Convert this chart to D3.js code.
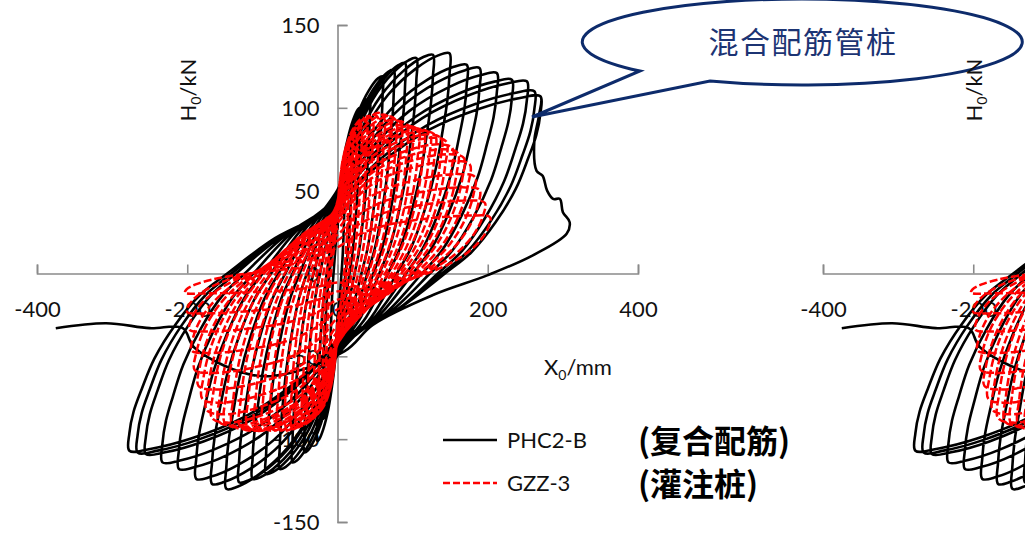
<!DOCTYPE html>
<html><head><meta charset="utf-8">
<script src="https://cdn.jsdelivr.net/npm/d3@7"></script>
<style>body{margin:0;background:#fff;overflow:hidden}svg{display:block}</style>
</head><body>
<svg id="c" width="1025" height="536"></svg>
<script>
// ---- data ----
const xTicks = [-400, -200, 0, 200, 400];
const yTicks = [-150, -100, -50, 0, 50, 100, 150];
const seriesNames = ["PHC2-B", "GZZ-3"];
const seriesNotes = ["(复合配筋)", "(灌注桩)"];
const calloutText = "混合配筋管桩";

// PHC2-B cycle peaks (mm, kN)
const blackPosX = [10, 20, 30, 43, 60, 75, 90, 105, 127, 149, 172, 189, 212, 232, 252, 262, 270];
const blackPosF = [70, 88, 100, 106, 119, 123, 127, 130, 132, 133, 126, 124, 121, 117, 116, 110, 107];
const blackNegX = [-10, -20, -27, -44, -60, -77, -95, -113, -131, -148, -167, -188, -211, -233, -255, -266, -277];
const blackNegF = [-70, -88, -101, -108, -114, -118, -121, -124, -126, -130, -127, -124, -118, -114, -109, -108, -107];
// normalized loop template for PHC2-B (fraction of peak)
const blackLoopU = [0, 0.1, 0.22, 0.45, 0.7, 0.9, 1.0, 1.0, 0.98, 0.94, 0.88, 0.78, 0.66, 0.53, 0.3, 0];
const blackLoopV = [0.38, 0.5, 0.63, 0.81, 0.93, 0.99, 1.0, 0.9, 0.78, 0.65, 0.48, 0.29, 0.12, 0, -0.2, -0.38];
const blackPeakIndex = 6;
// final failure branch of PHC2-B
const tailX = [268, 262, 265, 273, 279, 287, 296, 300, 309, 305, 260, 200, 127, 47, 9, -100, -190, -206, -250, -308, -375];
const tailF = [95, 80, 62, 59, 50, 45, 45, 37, 31, 24, 11, -1, -13, -31, -47, -62, -45, -33, -33, -30, -33];

// GZZ-3 cycle peaks (mm, kN)
const redPosX = [15, 20, 25, 32, 39, 47, 55, 62, 70, 78, 85, 93, 100, 108, 115, 123, 130, 138, 145, 153, 160, 168, 176, 183, 189, 196, 203];
const redPosF = [70, 78, 85, 90, 94, 95, 96, 97, 96, 95, 93, 92, 90, 89, 88, 87, 86, 84, 82, 78, 75, 72, 68, 60, 52, 44, 35];
const redNegX = [-15, -20, -25, -32, -40, -47, -55, -62, -70, -80, -90, -100, -110, -120, -130, -140, -150, -158, -167, -174, -180, -185, -190, -194, -197, -200, -203];
const redNegF = [-65, -73, -80, -85, -88, -90, -92, -93, -94, -95, -95, -95, -94, -95, -95, -94, -93, -92, -90, -85, -78, -70, -60, -48, -35, -24, -12];
const redLoopU = [0, 0.1, 0.3, 0.6, 0.88, 1.0, 0.99, 0.93, 0.82, 0.68, 0.5, 0.25, 0];
const redLoopV = [0.45, 0.62, 0.82, 0.95, 1.0, 0.97, 0.8, 0.55, 0.3, 0.1, -0.08, -0.28, -0.45];

// ---- build series ----
function buildSeries(px, pf, nx, nf, U, V, peakIdx, tX, tF) {
  const pts = [];
  for (let i = 0; i < px.length; i++) {
    for (let k = 0; k < U.length - 1; k++) pts.push([U[k] * px[i], V[k] * pf[i]]);
    for (let k = 0; k < U.length - 1; k++) pts.push([U[k] * nx[i], V[k] * nf[i]]);
  }
  if (tX) {
    const L = px.length - 1;
    for (let k = 0; k <= peakIdx; k++) pts.push([U[k] * px[L], V[k] * pf[L]]);
    for (let k = 0; k < tX.length; k++) pts.push([tX[k], tF[k]]);
  }
  return pts;
}
const blackPts = buildSeries(blackPosX, blackPosF, blackNegX, blackNegF, blackLoopU, blackLoopV, blackPeakIndex, tailX, tailF);
const redPts = buildSeries(redPosX, redPosF, redNegX, redNegF, redLoopU, redLoopV, 5, null, null);

const svg = d3.select("#c");
const x = d3.scaleLinear().domain([-400, 400]).range([37, 638]);
const y = d3.scaleLinear().domain([-150, 150]).range([522, 25]);
const FONT = "Lato, 'Open Sans', sans-serif";
const AX = "#8a8a8a";

function drawChart(g) {
  const gx = g.append("g").attr("transform", `translate(0,${y(0)})`)
    .call(d3.axisTop(x).tickValues(xTicks).tickSize(9).tickSizeOuter(9).tickFormat(d => String(d)));
  gx.selectAll("path,line").attr("stroke", AX).attr("stroke-width", 1.6);
  gx.selectAll("text").attr("y", 36).attr("dy", "0.35em").attr("font-size", 22).attr("font-family", FONT).attr("fill", "#111");
  const gy = g.append("g").attr("transform", `translate(${x(0)},0)`)
    .call(d3.axisRight(y).tickValues(yTicks).tickSize(10).tickSizeOuter(10).tickFormat(d => String(d)));
  gy.selectAll("path,line").attr("stroke", AX).attr("stroke-width", 1.6);
  gy.selectAll("text").attr("x", -18).attr("dy", "0.35em").attr("text-anchor", "end")
    .attr("font-size", 22).attr("font-family", FONT).attr("fill", "#111");

  const ht = g.append("text").attr("transform", "translate(196,90) rotate(-90)")
    .attr("text-anchor", "middle").attr("font-size", 22).attr("font-family", FONT).attr("fill", "#111");
  ht.append("tspan").text("H");
  ht.append("tspan").attr("font-size", 14).attr("dy", 5).text("0");
  ht.append("tspan").attr("dy", -5).text("/kN");
  const xt = g.append("text").attr("x", 578).attr("y", 375)
    .attr("text-anchor", "middle").attr("font-size", 22).attr("font-family", FONT).attr("fill", "#111");
  xt.append("tspan").text("X");
  xt.append("tspan").attr("font-size", 14).attr("dy", 5).text("0");
  xt.append("tspan").attr("dy", -5).text("/mm");

  const line = d3.line().x(d => x(d[0])).y(d => y(d[1])).curve(d3.curveCatmullRom.alpha(0.5));
  g.append("path").attr("d", line(blackPts)).attr("fill", "none").attr("stroke", "#000")
    .attr("stroke-width", 2.6).attr("stroke-linejoin", "round");
  g.append("path").attr("d", line(redPts)).attr("fill", "none").attr("stroke", "#ff0000")
    .attr("stroke-width", 2.5).attr("stroke-dasharray", "8,3");
}

const g1 = svg.append("g");
drawChart(g1);

// legend
const leg = svg.append("g");
const legY = [440, 483];
leg.selectAll("line.l").data(seriesNames).join("line")
  .attr("x1", 443).attr("x2", 497).attr("y1", (d, i) => legY[i]).attr("y2", (d, i) => legY[i])
  .attr("stroke", (d, i) => i ? "#ff0000" : "#000").attr("stroke-width", 2.6)
  .attr("stroke-dasharray", (d, i) => i ? "7,3" : null);
leg.selectAll("text.n").data(seriesNames).join("text")
  .attr("x", 507).attr("y", (d, i) => legY[i]).attr("dy", "0.35em")
  .attr("font-size", 22).attr("font-family", FONT).attr("fill", "#111").text(d => d);
leg.selectAll("text.b").data(seriesNotes).join("text")
  .attr("x", 638).attr("y", (d, i) => legY[i] + 1).attr("dy", "0.36em")
  .attr("font-size", 32).attr("font-weight", "bold").attr("font-family", "'Noto Sans CJK SC', sans-serif")
  .attr("fill", "#000").text(d => d);

// callout bubble
svg.append("path")
  .attr("d", "M710,81 A220,43 0 1 0 640,71 L532,117 Z")
  .attr("fill", "#fff").attr("stroke", "#0d2b6b").attr("stroke-width", 3).attr("stroke-linejoin", "miter");
svg.append("text").attr("x", 803).attr("y", 42).attr("dy", "0.36em").attr("text-anchor", "middle")
  .attr("font-size", 30).attr("letter-spacing", 1.5).attr("font-family", "'Noto Sans CJK SC', sans-serif")
  .attr("fill", "#1c3473").text(calloutText);

// duplicated chart at right edge (cropped)
const g2 = svg.append("g").attr("transform", "translate(786,0)");
drawChart(g2);
</script>
</body></html>
